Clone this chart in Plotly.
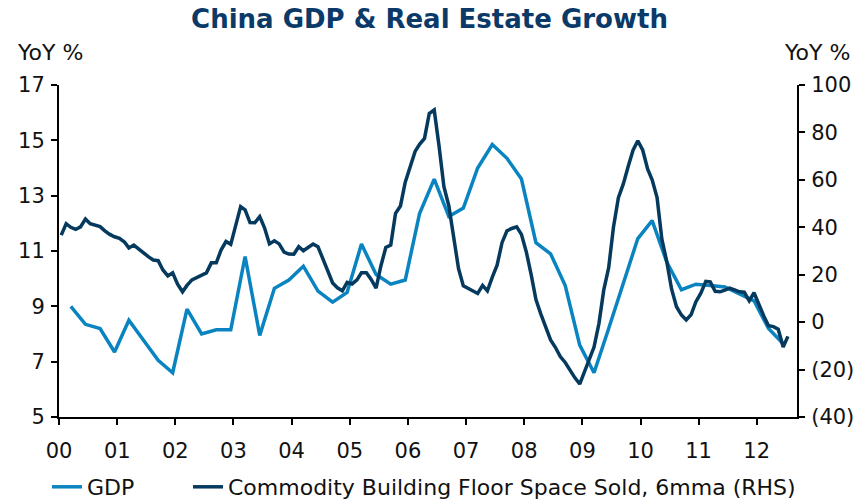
import pandas as pd
import plotly.graph_objects as go

# ---------------- data ----------------
gdp_dates = pd.date_range("2000-03-01", periods=50, freq="3MS") + pd.Timedelta(days=14)
gdp_values = [
    9.0, 8.35, 8.2, 7.35,
    8.5, 7.8, 7.05, 6.6,
    8.9, 8.0, 8.15, 8.15,
    10.8, 7.95, 9.65, 9.95,
    10.45, 9.55, 9.15, 9.5,
    11.25, 10.15, 9.8, 9.95,
    12.35, 13.6, 12.25, 12.55,
    14.0, 14.85, 14.35, 13.6,
    11.3, 10.9, 9.75, 7.6,
    6.6, 8.2, 9.8, 11.45,
    12.1, 10.6, 9.6, 9.8,
    9.75, 9.7, 9.45, 9.2,
    8.2, 7.65,
]

floor_dates = pd.date_range("2000-01-01", periods=151, freq="MS") + pd.Timedelta(days=14)
floor_values = [
    36.7, 41.5, 40.0, 39.1, 40.2, 43.5, 41.5, 41.0, 40.3, 38.5,
    37.0, 36.0, 35.3, 33.8, 31.3, 32.5, 30.8, 29.0, 27.6, 26.2,
    25.9, 22.0, 19.5, 20.8, 16.0, 12.8, 15.5, 17.8, 18.8, 19.7,
    20.8, 25.0, 25.0, 30.4, 34.0, 32.8, 40.5, 48.7, 47.3, 42.0,
    41.9, 44.5, 39.8, 33.0, 34.3, 33.0, 29.5, 28.7, 28.6, 31.8,
    30.1, 31.5, 32.9, 31.8, 27.0, 21.5, 16.5, 14.5, 13.2, 16.8,
    16.1, 17.8, 20.8, 20.8, 18.0, 14.3, 23.7, 31.5, 32.5, 45.9,
    49.0, 59.0, 65.7, 72.0, 75.0, 77.5, 88.0, 89.5, 74.5, 57.1,
    49.0, 36.5, 22.5, 15.3, 14.2, 12.8, 12.1, 15.5, 13.2, 19.0,
    24.0, 33.5, 38.5, 39.5, 40.2, 37.0, 29.5, 19.7, 9.5, 3.4,
    -2.0, -7.5, -10.6, -14.5, -17.0, -20.5, -23.5, -26.1, -21.0, -15.5,
    -10.5, -0.5, 13.5, 23.0, 40.0, 52.5, 58.3, 65.5, 72.5, 76.5,
    72.5, 64.5, 60.0, 52.5, 35.0, 25.5, 14.0, 6.5, 3.0, 0.9,
    3.2, 8.6, 12.2, 17.2, 17.0, 13.0, 12.8, 13.5, 14.3, 13.6,
    12.8, 12.6, 9.0, 12.4, 7.0, 2.5, -1.5, -1.9, -3.0, -10.5, -6.0,
]

left_ticks = [5, 7, 9, 11, 13, 15, 17]
right_ticks = [-40, -20, 0, 20, 40, 60, 80, 100]
right_ticktext = ["(40)", "(20)", "0", "20", "40", "60", "80", "100"]

title_text = "China GDP & Real Estate Growth"
gdp_name = "GDP"
floor_name = "Commodity Building Floor Space Sold, 6mma (RHS)"
axis_caption = "YoY %"

# ---------------- styles ----------------
FONT = "Verdana, DejaVu Sans, sans-serif"
LIGHT = "#0A84C1"
DARK = "#053A5E"
NAVY = "#0B3A68"
TXT = "#111111"
W, H = 859, 503
ML, MR, MT, MB = 59, 62, 85, 86

fig = go.Figure()
fig.add_trace(go.Scatter(x=gdp_dates, y=gdp_values, name=gdp_name, mode="lines",
                         line=dict(color=LIGHT, width=3.5), yaxis="y", legend="legend"))
fig.add_trace(go.Scatter(x=floor_dates, y=floor_values, name=floor_name, mode="lines",
                         line=dict(color=DARK, width=3.5), yaxis="y2", legend="legend2"))

axis_common = dict(showgrid=False, zeroline=False, showline=True, linecolor="black",
                   linewidth=2, ticks="outside", ticklen=6, tickwidth=2, tickcolor="black",
                   automargin=False, tickfont=dict(family=FONT, size=21, color=TXT))

legend_common = dict(orientation="h", xref="container", yref="container",
                     xanchor="left", y=1 - 487 / H, yanchor="middle",
                     font=dict(family=FONT, size=22, color=TXT),
                     bgcolor="rgba(0,0,0,0)", borderwidth=0)

plot_w = W - ML - MR
plot_h = H - MT - MB

fig.update_layout(
    width=W, height=H,
    margin=dict(l=ML, r=MR, t=MT, b=MB, autoexpand=False),
    paper_bgcolor="white", plot_bgcolor="white",
    title=dict(text="<b>" + title_text + "</b>", x=0.5, xref="container", xanchor="center",
               y=1 - 18.5 / H, yref="container", yanchor="middle",
               font=dict(family=FONT, size=26, color=NAVY)),
    xaxis=dict(**axis_common, type="date", range=["2000-01-01", "2012-09-10"],
               tick0="2000-01-01", dtick="M12", tickformat="%y", ticklabelstandoff=8),
    yaxis=dict(**axis_common, range=[5, 17], tickvals=left_ticks, ticklabelstandoff=2),
    yaxis2=dict(**axis_common, range=[-40, 100], tickvals=right_ticks, ticktext=right_ticktext,
                overlaying="y", side="right", ticklabelstandoff=2),
    showlegend=True,
    legend=dict(**legend_common, x=47 / W),
    legend2=dict(**legend_common, x=188 / W),
    annotations=[
        dict(text=axis_caption, xref="paper", yref="paper",
             x=(15 - ML) / plot_w, y=(H - MB - 53) / plot_h,
             xanchor="left", yanchor="middle", showarrow=False,
             font=dict(family=FONT, size=22, color=TXT)),
        dict(text=axis_caption, xref="paper", yref="paper",
             x=(852 - ML) / plot_w, y=(H - MB - 53) / plot_h,
             xanchor="right", yanchor="middle", showarrow=False,
             font=dict(family=FONT, size=22, color=TXT)),
    ],
)

fig.write_html("out.html")
